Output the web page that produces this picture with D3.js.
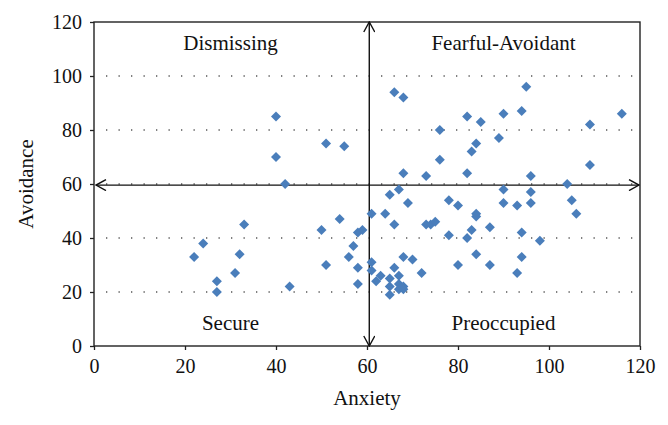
<!DOCTYPE html>
<html>
<head>
<meta charset="utf-8">
<script src="https://cdn.jsdelivr.net/npm/d3@7"></script>
<style>
  body { margin: 0; background: #fff; }
  text { font-family: "Liberation Serif", "DejaVu Serif", serif; fill: #111; }
</style>
</head>
<body>
<div id="chart"></div>
<script>
// Data
const anxiety = [
  40, 40, 42, 51, 55,
  22, 24, 27, 27, 31, 32, 33, 43, 50, 51, 54, 56, 57, 58, 59, 58, 58,
  61, 64, 65, 67, 69, 66, 61, 61, 62, 63, 65, 65, 65, 66, 67, 67, 68, 67, 68, 68, 70, 72, 73, 74, 75,
  66, 68, 68, 73, 76, 76, 82, 85, 90, 94, 95, 89, 84, 83, 82, 96, 116, 109, 109, 104,
  78, 80, 78, 82, 83, 84, 84, 87, 84, 80, 87, 90, 90, 93, 96, 96, 94, 98, 94, 93, 105, 106
];
const avoidance = [
  85, 70, 60, 75, 74,
  33, 38, 24, 20, 27, 34, 45, 22, 43, 30, 47, 33, 37, 42, 43, 29, 23,
  49, 49, 56, 58, 53, 45, 31, 28, 24, 26, 25, 22, 19, 29, 26, 23, 22, 21, 21, 33, 32, 27, 45, 45, 46,
  94, 92, 64, 63, 80, 69, 85, 83, 86, 87, 96, 77, 75, 72, 64, 63, 86, 82, 67, 60,
  54, 52, 41, 40, 43, 49, 48, 44, 34, 30, 30, 58, 53, 52, 57, 53, 42, 39, 33, 27, 54, 49
];
const xTicks = [0, 20, 40, 60, 80, 100, 120];
const yTicks = [0, 20, 40, 60, 80, 100, 120];
const gridValues = [20, 40, 60, 80, 100];
const anxietyCut = 60.5;
const avoidanceCut = 59.6;
const quadrantNames = ["Dismissing", "Fearful-Avoidant", "Secure", "Preoccupied"];

const points = anxiety.map((a, i) => ({ x: a, y: avoidance[i] }));

// Set the dimensions and margins of the graph
const W = 668, H = 425;
const margin = { top: 22, right: 28, bottom: 79, left: 94 },
      width = W - margin.left - margin.right,
      height = H - margin.top - margin.bottom;

const svg = d3.select("#chart")
    .append("svg")
    .attr("width", W)
    .attr("height", H)
    .append("g")
    .attr("transform", `translate(${margin.left},${margin.top})`);

// Scales
const x = d3.scaleLinear().domain([0, 120]).range([0, width]);
const y = d3.scaleLinear().domain([0, 120]).range([height, 0]);

// Dotted gridlines
svg.append("g")
    .selectAll("line")
    .data(gridValues)
    .join("line")
    .attr("x1", x(0) + 12)
    .attr("x2", x(120))
    .attr("y1", d => y(d))
    .attr("y2", d => y(d))
    .attr("stroke", "#555")
    .attr("stroke-width", 1.3)
    .attr("stroke-dasharray", "1.3,11.2");

// Axes
const yAxis = svg.append("g")
    .call(d3.axisLeft(y).tickValues(yTicks).tickSize(4).tickSizeOuter(0).tickPadding(8));
const xAxis = svg.append("g")
    .attr("transform", `translate(0,${height})`)
    .call(d3.axisBottom(x).tickValues(xTicks).tickSize(4).tickSizeOuter(0).tickPadding(9));

[xAxis, yAxis].forEach(g => {
    g.select(".domain").remove();
    g.selectAll("line").attr("stroke", "#222").attr("stroke-width", 1.3);
    g.selectAll("text").attr("font-size", 20).attr("fill", "#111")
        .attr("font-family", "Liberation Serif, serif");
});

// Frame
svg.append("rect")
    .attr("x", 0).attr("y", 0)
    .attr("width", width).attr("height", height)
    .attr("fill", "none")
    .attr("stroke", "#222")
    .attr("stroke-width", 1.4);

// Quadrant arrows
const defs = svg.append("defs");
defs.append("marker")
    .attr("id", "arr")
    .attr("viewBox", "0 -6 12 12")
    .attr("refX", 11).attr("refY", 0)
    .attr("markerWidth", 12).attr("markerHeight", 12)
    .attr("markerUnits", "userSpaceOnUse")
    .attr("orient", "auto-start-reverse")
    .append("path")
    .attr("d", "M1,-5.5L11,0L1,5.5")
    .attr("fill", "none")
    .attr("stroke", "#111")
    .attr("stroke-width", 1.4);

svg.append("line")
    .attr("x1", x(0) + 2).attr("x2", x(120) - 1)
    .attr("y1", y(avoidanceCut)).attr("y2", y(avoidanceCut))
    .attr("stroke", "#111").attr("stroke-width", 1.4)
    .attr("marker-start", "url(#arr)").attr("marker-end", "url(#arr)");

svg.append("line")
    .attr("x1", x(anxietyCut)).attr("x2", x(anxietyCut))
    .attr("y1", y(0)).attr("y2", y(120))
    .attr("stroke", "#111").attr("stroke-width", 1.4)
    .attr("marker-start", "url(#arr)").attr("marker-end", "url(#arr)");

// Points
svg.append("g")
    .selectAll("path")
    .data(points)
    .join("path")
    .attr("d", d3.symbol(d3.symbolSquare, 50))
    .attr("transform", d => `translate(${x(d.x)},${y(d.y)}) rotate(45)`)
    .attr("fill", "#4a7ebb");

// Quadrant labels
const qx = [30, 90, 30, 90];
const qy = [y(120) + 28, y(120) + 28, y(0) - 16, y(0) - 16];
svg.append("g")
    .selectAll("text")
    .data(quadrantNames)
    .join("text")
    .attr("x", (d, i) => x(qx[i]))
    .attr("y", (d, i) => qy[i])
    .attr("text-anchor", "middle")
    .attr("font-size", 21)
    .text(d => d);

// Axis titles
svg.append("text")
    .attr("x", width / 2)
    .attr("y", height + 59)
    .attr("text-anchor", "middle")
    .attr("font-size", 21)
    .text("Anxiety");

svg.append("text")
    .attr("transform", "rotate(-90)")
    .attr("x", -height / 2)
    .attr("y", -61)
    .attr("text-anchor", "middle")
    .attr("font-size", 21)
    .text("Avoidance");
</script>
</body>
</html>
